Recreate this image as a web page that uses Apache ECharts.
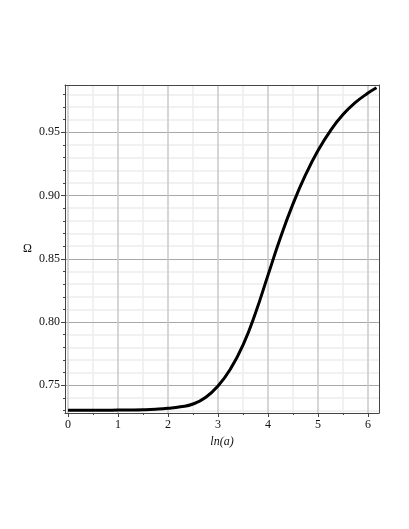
<!DOCTYPE html>
<html>
<head>
<meta charset="utf-8">
<script src="https://cdn.jsdelivr.net/npm/echarts@6/dist/echarts.min.js"></script>
<style>
    html, body { margin: 0; padding: 0; background: #fff; }
    #chart { width: 409px; height: 529px; }
</style>
</head>
<body>
<div id="chart"></div>
<script>
// ln(a) and Omega
const lnA = [0, 0.25, 0.5, 0.75, 1.0, 1.25, 1.5, 1.75, 2.0, 2.25, 2.5, 2.75, 3.0, 3.25,
    3.5, 3.75, 4.0, 4.25, 4.5, 4.75, 5.0, 5.25, 5.5, 5.75, 6.0, 6.17];
const omega = [0.7302, 0.7302, 0.7302, 0.7303, 0.7304, 0.7305, 0.7307, 0.7311, 0.7318, 0.7330,
    0.7352, 0.7403, 0.7495, 0.7630, 0.7818, 0.8072, 0.8371, 0.8668, 0.8934, 0.9163,
    0.9356, 0.9514, 0.9640, 0.9736, 0.9810, 0.9852];

// ticks
const xMajor = [0, 1, 2, 3, 4, 5, 6];
const xMinor = [0.5, 1.5, 2.5, 3.5, 4.5, 5.5];
const yMajor = [0.75, 0.80, 0.85, 0.90, 0.95];
const yMinor = [0.73, 0.74, 0.76, 0.77, 0.78, 0.79, 0.81, 0.82, 0.83, 0.84, 0.86, 0.87,
    0.88, 0.89, 0.91, 0.92, 0.93, 0.94, 0.96, 0.97, 0.98];

const xRange = [-0.06, 6.22];
const yRange = [0.7281, 0.9874];

const font = '"Liberation Serif", "DejaVu Serif", serif';
const boxColor = '#444';

const rect = { left: 65, top: 85, right: 30, bottom: 116 };

const chart = echarts.init(document.getElementById('chart'));

chart.setOption({
    animation: false,
    backgroundColor: '#fff',
    grid: [
        Object.assign({}, rect),
        Object.assign({}, rect)
    ],
    xAxis: [{
        // major, bottom
        type: 'value', gridIndex: 0, position: 'bottom',
        min: xRange[0], max: xRange[1], z: 2,
        name: 'ln(a)', nameLocation: 'middle', nameGap: 20,
        nameTextStyle: { fontFamily: font, fontStyle: 'italic', fontSize: 12, color: '#111' },
        axisLine: { show: true, onZero: false, lineStyle: { color: boxColor, width: 1 } },
        axisTick: { show: true, length: 4, customValues: xMajor, lineStyle: { color: boxColor } },
        axisLabel: { customValues: xMajor, margin: 6, fontFamily: font, fontSize: 12, color: '#111' },
        splitLine: { show: true, lineStyle: { color: '#c8c8c8', width: 1.5 } }
    }, {
        // top edge of the box
        type: 'value', gridIndex: 0, position: 'top',
        min: xRange[0], max: xRange[1], z: 2,
        axisLine: { show: true, onZero: false, lineStyle: { color: boxColor, width: 1 } },
        axisTick: { show: false },
        axisLabel: { show: false },
        splitLine: { show: false }
    }, {
        // minor, bottom
        type: 'value', gridIndex: 1, position: 'bottom',
        min: xRange[0], max: xRange[1], z: 1,
        axisLine: { show: false, onZero: false },
        axisTick: { show: true, length: 2, customValues: xMinor, lineStyle: { color: boxColor } },
        axisLabel: { show: false },
        splitLine: { show: true, lineStyle: { color: '#ececec', width: 1.5 } }
    }],
    yAxis: [{
        type: 'value', gridIndex: 0, position: 'left',
        min: yRange[0], max: yRange[1], z: 2,
        name: 'Ω', nameLocation: 'middle', nameRotate: 0, nameGap: 33,
        nameTextStyle: { fontFamily: font, fontSize: 12, color: '#111' },
        axisLine: { show: true, onZero: false, lineStyle: { color: boxColor, width: 1 } },
        axisTick: { show: true, length: 4, customValues: yMajor, lineStyle: { color: boxColor } },
        axisLabel: {
            customValues: yMajor, margin: 5, fontFamily: font, fontSize: 12, color: '#111',
            formatter: function (v) { return v.toFixed(2); }
        },
        splitLine: { show: true, lineStyle: { color: '#a8a8a8', width: 1 } }
    }, {
        type: 'value', gridIndex: 0, position: 'right',
        min: yRange[0], max: yRange[1], z: 2,
        axisLine: { show: true, onZero: false, lineStyle: { color: boxColor, width: 1 } },
        axisTick: { show: false },
        axisLabel: { show: false },
        splitLine: { show: false }
    }, {
        type: 'value', gridIndex: 1, position: 'left',
        min: yRange[0], max: yRange[1], z: 1,
        axisLine: { show: false, onZero: false },
        axisTick: { show: true, length: 2, customValues: yMinor, lineStyle: { color: boxColor } },
        axisLabel: { show: false },
        splitLine: { show: true, lineStyle: { color: '#ececec', width: 1.5 } }
    }],
    series: [{
        type: 'line',
        xAxisIndex: 0,
        yAxisIndex: 0,
        data: lnA.map(function (x, i) { return [x, omega[i]]; }),
        smooth: 0.5,
        showSymbol: false,
        z: 5,
        lineStyle: { color: '#000', width: 3 }
    }]
});
</script>
</body>
</html>
